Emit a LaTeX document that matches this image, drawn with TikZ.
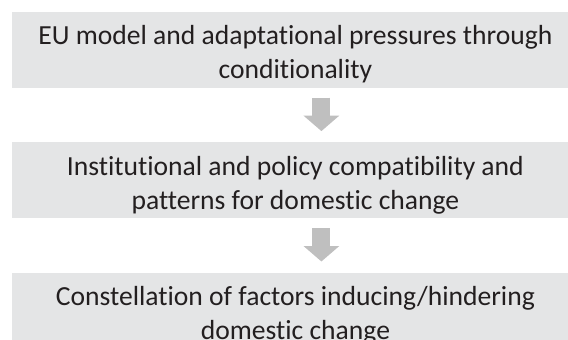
\documentclass[tikz,border=0pt]{standalone}
\usepackage{fontspec}
\setmainfont[Ligatures={NoCommon}]{Carlito}
\usetikzlibrary{arrows.meta,positioning}
\definecolor{boxgray}{HTML}{E4E5E6}
\definecolor{arrowgray}{HTML}{BFBFBF}
\definecolor{textdark}{HTML}{231F20}
\newcommand{\topgap}{\rule{0pt}{29pt}}

\begin{document}
\begin{tikzpicture}[x=1pt,y=1pt,
	stage_box/.style={rectangle,fill=boxgray,text=textdark,minimum width=567pt,minimum height=75.6pt,
		inner sep=0pt,align=center,font=\fontsize{27.6}{34}\selectfont},
	flow_arrow/.style={draw=arrowgray,line width=18pt,-{Triangle[width=35pt,length=15.5pt]}}]

		\useasboundingbox (0,0) rectangle (568,-340);

		\node[stage_box,anchor=north west] (stage1) at (11.7,-11.7) {\topgap EU model and adaptational pressures through\\conditionality};
		\node[stage_box,below=54.4pt of stage1] (stage2) {\topgap Institutional and policy compatibility and\\patterns for domestic change};
		\node[stage_box,below=54.4pt of stage2] (stage3) {\topgap Constellation of factors inducing/hindering\\domestic change};

		\draw[flow_arrow] ([xshift=26pt,yshift=-10pt]stage1.south) -- ([xshift=26pt,yshift=11pt]stage2.north);
		\draw[flow_arrow] ([xshift=26pt,yshift=-10pt]stage2.south) -- ([xshift=26pt,yshift=11pt]stage3.north);
		\end{tikzpicture}
\end{document}
